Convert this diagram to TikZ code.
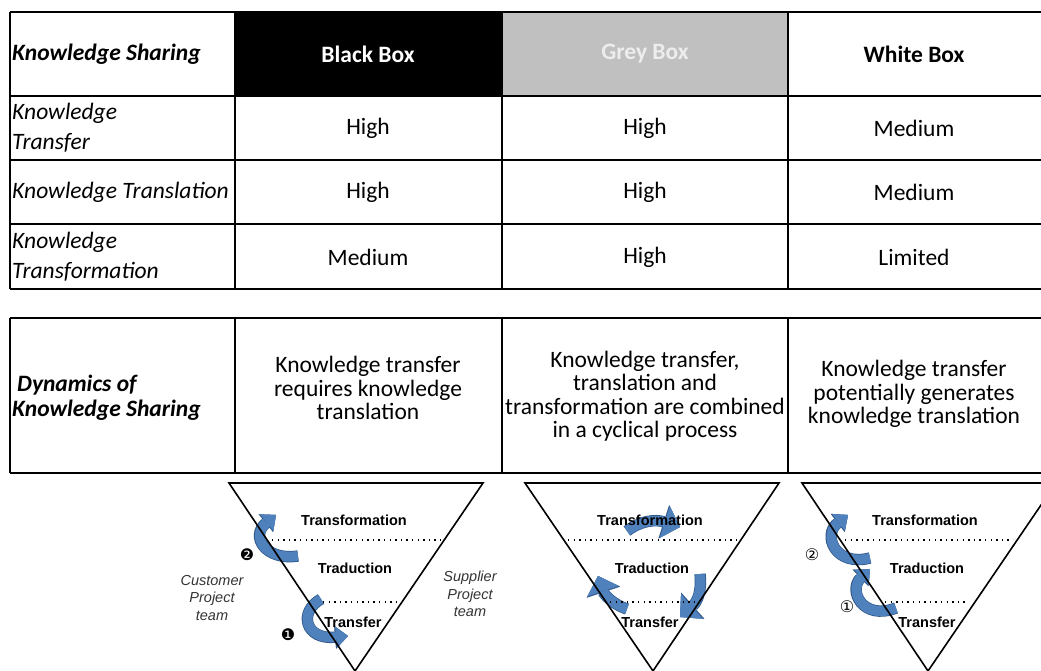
\documentclass[tikz,border=0pt]{standalone}
\usepackage{fontspec}
\setmainfont{Carlito}
\newfontfamily\arialfont{Liberation Sans}
\newfontfamily\dingfont{DejaVu Sans}
\usetikzlibrary{arrows.meta}
\definecolor{cellgrey}{HTML}{C0C0C0}
\definecolor{greytext}{HTML}{EDEDED}
\definecolor{arrowblue}{HTML}{4F81BD}
\definecolor{arrowedge}{HTML}{2E5486}

\begin{document}
\begin{tikzpicture}[x=1pt,y=-1pt]
    \tikzset{Cell/.style={font=\fontsize{23.5}{23.5}\selectfont, align=center, inner sep=0pt}}
    \tikzset{HeadCell/.style={font=\fontsize{23.5}{28}\selectfont\bfseries, align=center, inner sep=0pt}}
    \tikzset{RowHead/.style={font=\fontsize{23.5}{30}\selectfont\itshape, anchor=west, align=left, inner sep=0pt}}
    \tikzset{Level/.style={font=\arialfont\bfseries\fontsize{14.5}{17}\selectfont, inner sep=0pt}}
    \tikzset{Team/.style={font=\arialfont\itshape\fontsize{14.5}{17.5}\selectfont, align=center, text=black!80, inner sep=0pt}}
    \tikzset{Mark/.style={font=\dingfont\fontsize{16}{16}\selectfont, inner sep=0pt}}
    \tikzset{Grid/.style={line width=1.4pt}}
    \tikzset{Funnel/.style={line width=1.6pt, line join=miter}}
    \tikzset{Layer/.style={line width=1.4pt, dash pattern=on 1.4pt off 4.2pt}}
    \tikzset{Spin/.style={draw=arrowblue, line width=10pt,
        -{Triangle[length=12pt,width=21pt,line width=0.1pt]},
        preaction={draw=arrowedge, line width=11.4pt, -{Triangle[length=13pt,width=23pt,line width=0.1pt]}}}}
    \tikzset{SpinBig/.style={draw=arrowblue, line width=10pt,
        -{Triangle[length=16pt,width=33pt,line width=0.1pt]},
        preaction={draw=arrowedge, line width=11.4pt, -{Triangle[length=17pt,width=35pt,line width=0.1pt]}}}}

    \useasboundingbox (0,0) rectangle (1041,671);
    \clip (0,0) rectangle (1041,671);

    % first table
    \fill (235,12) rectangle (502,96);
    \fill[cellgrey] (502,12) rectangle (788,96);
    \foreach \y in {12,96,160,224,289}
        \draw[Grid] (10,\y) -- (1041,\y);
    \foreach \x in {10,235,502,788}
        \draw[Grid] (\x,12) -- (\x,289);

    \node[RowHead, font=\fontsize{23.5}{28}\selectfont\bfseries\itshape] (Sharing) at (12,54) {Knowledge Sharing};
    \node[HeadCell, text=white] (BlackBox) at (368,54) {Black Box};
    \node[HeadCell, text=greytext] (GreyBox) at (645,54) {Grey Box};
    \node[HeadCell] (WhiteBox) at (914,54) {White Box};

    \node[RowHead] (Transfer) at (12,128) {Knowledge\\Transfer};
    \node[RowHead] (Translation) at (12,192) {Knowledge Translation};
    \node[RowHead] (Transformation) at (12,257) {Knowledge\\Transformation};

    \node[Cell] (BTransfer) at (368,128) {High};
    \node[Cell] (GTransfer) at (645,128) {High};
    \node[Cell] (WTransfer) at (914,128) {Medium};
    \node[Cell] (BTranslation) at (368,192) {High};
    \node[Cell] (GTranslation) at (645,192) {High};
    \node[Cell] (WTranslation) at (914,192) {Medium};
    \node[Cell] (BTransformation) at (368,257) {Medium};
    \node[Cell] (GTransformation) at (645,257) {High};
    \node[Cell] (WTransformation) at (914,257) {Limited};

    % second table
    \foreach \y in {318,473}
        \draw[Grid] (10,\y) -- (1041,\y);
    \foreach \x in {10,235,502,788}
        \draw[Grid] (\x,318) -- (\x,473);

    \node[RowHead, font=\fontsize{23.5}{25}\selectfont\bfseries\itshape] (Dynamics) at (12,398) {\hspace{5pt}Dynamics of\\Knowledge Sharing};
    \node[Cell] (BDynamics) at (368,388) {Knowledge transfer\\requires knowledge\\translation};
    \node[Cell] (GDynamics) at (645,396) {Knowledge transfer,\\translation and\\transformation are combined\\in a cyclical process};
    \node[Cell] (WDynamics) at (914,394) {Knowledge transfer\\potentially generates\\knowledge translation};

    % curved arrows
    \draw[Spin] (298,556) .. controls (265,561) and (250,536) .. (276,515);
    \draw[Spin] (321,599) .. controls (298,612) and (305,640) .. (348,636);

    \draw[SpinBig] (627,531) .. controls (640,521) and (655,519) .. (680,527);
    \draw[SpinBig] (700,574) .. controls (702,592) and (697,602) .. (680,617);
    \draw[SpinBig] (627,609) .. controls (612,604) and (604,594) .. (598,576);

    \draw[Spin] (870,558) .. controls (835,567) and (822,535) .. (848,515);
    \draw[Spin] (896,608) .. controls (862,621) and (848,590) .. (870,569);

    % funnels
    \coordinate (B1) at (229,483); \coordinate (B2) at (483,483); \coordinate (B3) at (355,671);
    \coordinate (G1) at (525,483); \coordinate (G2) at (779,483); \coordinate (G3) at (653,671);
    \coordinate (W1) at (802,483); \coordinate (W2) at (1056,483); \coordinate (W3) at (928,671);
    \draw[Funnel] (B1) -- (B2) -- (B3) -- cycle;
    \draw[Funnel] (G1) -- (G2) -- (G3) -- cycle;
    \draw[Funnel] (W1) -- (W2) -- (W3) -- cycle;

    \draw[Layer] (272,540) -- (443,540);
    \draw[Layer] (323,602) -- (398,602);
    \draw[Layer] (568,540) -- (737,540);
    \draw[Layer] (610,602) -- (695,602);
    \draw[Layer] (845,540) -- (1013,540);
    \draw[Layer] (885,602) -- (968,602);

    \node[Level] (BLevelTop) at (354,520) {Transformation};
    \node[Level] (BLevelMid) at (355,568) {Traduction};
    \node[Level] (BLevelLow) at (353,622) {Transfer};
    \node[Level] (GLevelTop) at (650,520) {Transformation};
    \node[Level] (GLevelMid) at (652,568) {Traduction};
    \node[Level] (GLevelLow) at (650,622) {Transfer};
    \node[Level] (WLevelTop) at (925,520) {Transformation};
    \node[Level] (WLevelMid) at (927,568) {Traduction};
    \node[Level] (WLevelLow) at (927,622) {Transfer};

    \node[Team] (Customer) at (212,598) {Customer\\Project\\team};
    \node[Team] (Supplier) at (470,594) {Supplier\\Project\\team};

    \node[Mark] (BStepTwo) at (247,555) {❷};
    \node[Mark] (BStepOne) at (288,635) {❶};
    \node[Mark] (WStepTwo) at (812,555) {②};
    \node[Mark] (WStepOne) at (847,607) {①};
\end{tikzpicture}
\end{document}
